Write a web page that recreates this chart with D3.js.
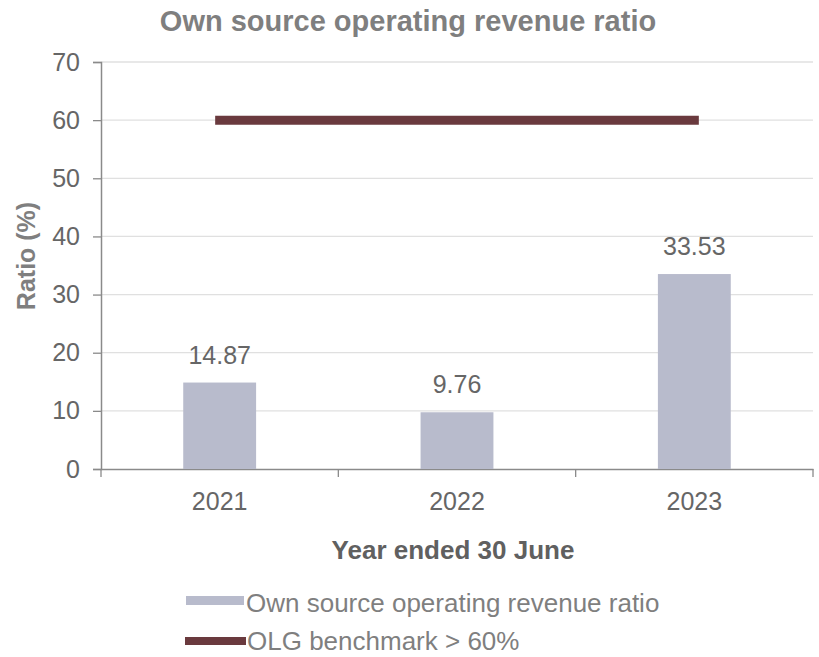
<!DOCTYPE html>
<html>
<head>
<meta charset="utf-8">
<script src="https://cdn.jsdelivr.net/npm/d3@7"></script>
<style>
  html, body { margin: 0; padding: 0; background: #ffffff; }
  svg { display: block; font-family: "Liberation Sans", Arial, sans-serif; }
</style>
</head>
<body>
<svg id="chart" width="819" height="657"></svg>
<script>
// Data
const years = ["2021", "2022", "2023"];
const ratioValues = [14.87, 9.76, 33.53];
const benchmarkValues = [60, 60, 60];
const yTicks = [0, 10, 20, 30, 40, 50, 60, 70];
const seriesNames = ["Own source operating revenue ratio", "OLG benchmark > 60%"];

const barColor = "#b8bbcc";
const lineColor = "#6a3a3e";
const textGrey = "#7f7f7f";
const tickGrey = "#666666";
const axisGrey = "#8a8a8a";

const svg = d3.select("#chart");

const plot = { left: 101, right: 813, top: 62, bottom: 469 };

const x = d3.scaleBand().domain(years).range([plot.left, plot.right]).padding(0);
const y = d3.scaleLinear().domain([0, 70]).range([plot.bottom, plot.top]);
const barW = x.bandwidth() * 0.307;

// Title
svg.append("text")
  .attr("x", 408).attr("y", 31)
  .attr("text-anchor", "middle")
  .attr("font-size", 29).attr("font-weight", "bold")
  .attr("fill", textGrey)
  .text("Own source operating revenue ratio");

// Horizontal gridlines
svg.append("g")
  .selectAll("line")
  .data(yTicks.filter(t => t > 0))
  .join("line")
  .attr("x1", plot.left).attr("x2", plot.right)
  .attr("y1", d => y(d)).attr("y2", d => y(d))
  .attr("stroke", "#e0e0e0").attr("stroke-width", 1.3);

// Y axis
const yAxis = svg.append("g")
  .attr("transform", `translate(${plot.left},0)`)
  .call(d3.axisLeft(y).tickValues(yTicks).tickSize(8).tickPadding(13));
yAxis.select(".domain").attr("stroke", axisGrey).attr("stroke-width", 1.5);
yAxis.selectAll(".tick line").attr("stroke", axisGrey).attr("stroke-width", 1.3);
yAxis.selectAll(".tick text")
  .attr("font-size", 25).attr("fill", tickGrey)
  .attr("font-family", "Liberation Sans, Arial, sans-serif");

// X axis with ticks at category boundaries
const xAxis = svg.append("g")
  .attr("transform", `translate(0,${plot.bottom})`)
  .call(d3.axisBottom(x).tickSize(0).tickPadding(23));
xAxis.select(".domain").attr("stroke", axisGrey).attr("stroke-width", 1.5);
xAxis.selectAll(".tick text")
  .attr("font-size", 25).attr("fill", tickGrey)
  .attr("font-family", "Liberation Sans, Arial, sans-serif");
const boundaries = years.map(d => x(d)).concat([x(years[years.length - 1]) + x.bandwidth()]);
xAxis.selectAll("line.boundary")
  .data(boundaries)
  .join("line")
  .attr("class", "boundary")
  .attr("x1", d => d).attr("x2", d => d)
  .attr("y1", 0).attr("y2", 8)
  .attr("stroke", axisGrey).attr("stroke-width", 1.3);

// Bars
const barData = years.map((yr, i) => ({ year: yr, value: ratioValues[i] }));
svg.append("g")
  .selectAll("rect")
  .data(barData)
  .join("rect")
  .attr("x", d => x(d.year) + (x.bandwidth() - barW) / 2)
  .attr("width", barW)
  .attr("y", d => y(d.value))
  .attr("height", d => y(0) - y(d.value))
  .attr("fill", barColor);

// Value labels
svg.append("g")
  .selectAll("text")
  .data(barData)
  .join("text")
  .attr("x", d => x(d.year) + x.bandwidth() / 2)
  .attr("y", d => y(d.value) - 19)
  .attr("text-anchor", "middle")
  .attr("font-size", 25).attr("fill", tickGrey)
  .text(d => d.value.toFixed(2));

// Benchmark line
const lineData = years.map((yr, i) => ({ year: yr, value: benchmarkValues[i] }));
svg.append("path")
  .datum(lineData)
  .attr("d", d3.line().x(d => x(d.year) + x.bandwidth() / 2).y(d => y(d.value)))
  .attr("fill", "none")
  .attr("stroke", lineColor)
  .attr("stroke-width", 9)
  .attr("stroke-linecap", "square");

// Axis titles
svg.append("text")
  .attr("transform", `translate(35,256) rotate(-90)`)
  .attr("text-anchor", "middle")
  .attr("font-size", 25).attr("font-weight", "bold")
  .attr("fill", textGrey)
  .text("Ratio (%)");

svg.append("text")
  .attr("x", 453).attr("y", 559)
  .attr("text-anchor", "middle")
  .attr("font-size", 26).attr("font-weight", "bold")
  .attr("fill", "#606060")
  .text("Year ended 30 June");

// Legend
const legend = svg.append("g");
legend.append("rect")
  .attr("x", 186).attr("y", 596).attr("width", 58).attr("height", 9)
  .attr("fill", barColor);
legend.append("text")
  .attr("x", 246).attr("y", 612)
  .attr("font-size", 26).attr("fill", textGrey)
  .text(seriesNames[0]);
legend.append("line")
  .attr("x1", 185).attr("x2", 246).attr("y1", 641).attr("y2", 641)
  .attr("stroke", lineColor).attr("stroke-width", 8);
legend.append("text")
  .attr("x", 247).attr("y", 650)
  .attr("font-size", 26).attr("fill", textGrey)
  .text(seriesNames[1]);
</script>
</body>
</html>
